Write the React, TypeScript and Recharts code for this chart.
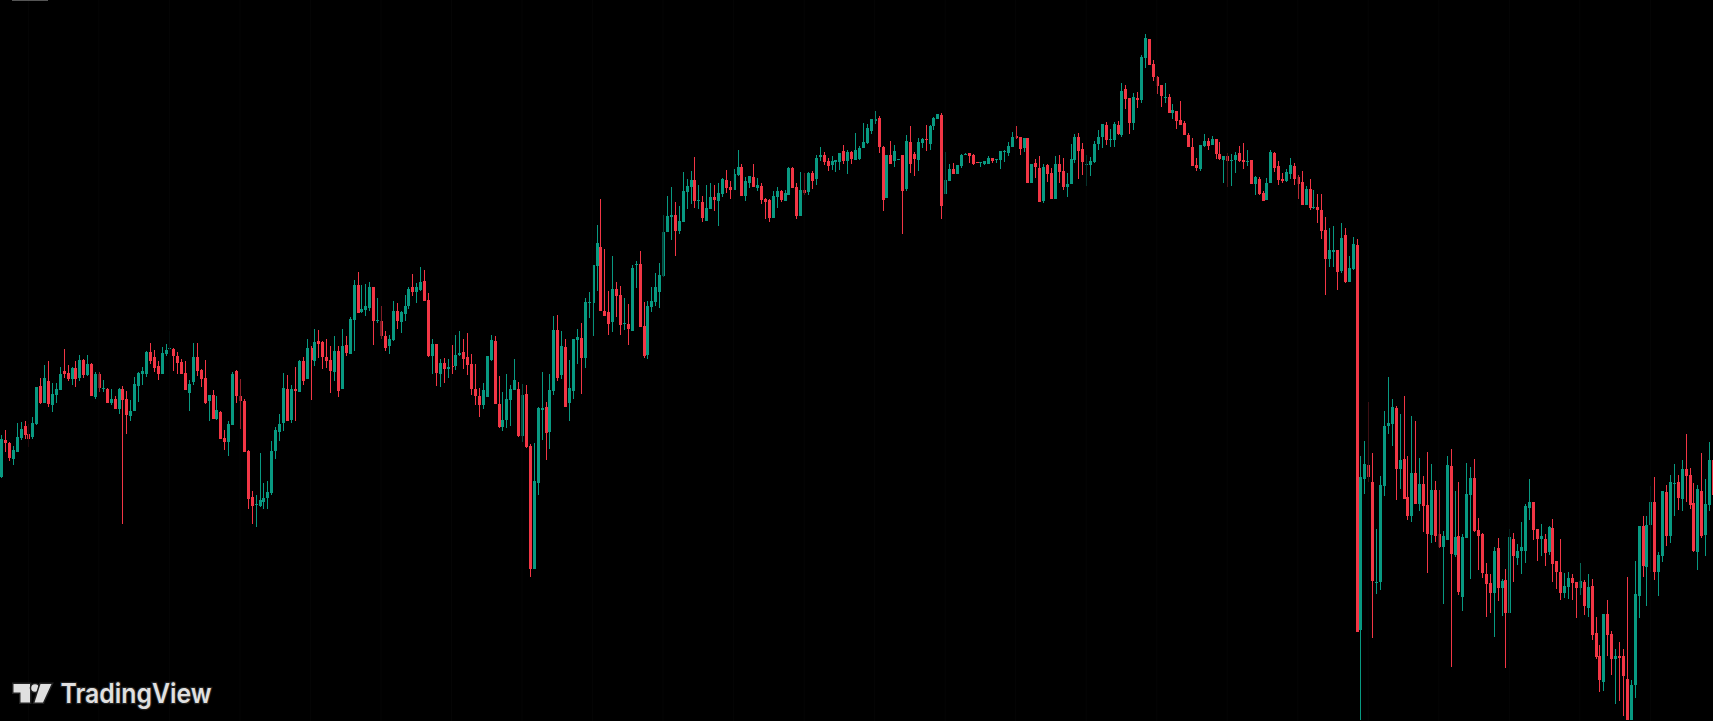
import React from "react";
import { ComposedChart, Bar, XAxis, YAxis, ReferenceLine } from "recharts";

type Q = [number, number, number, number]; // open, high, low, close

const leg1: Q[] = [
[244,286,243,282],[281,291,269,278],[278,279,260,263],[262,275,256,271],[269,298,269,284],[283,299,281,292],[295,300,282,286],[287,297,274,282],[284,304,282,298],[297,334,296,334],
[335,343,317,318],[318,356,318,343],[340,360,314,317],[316,338,309,327],[326,338,318,332],[331,354,331,347],[350,372,343,347],[348,356,340,342],[342,354,336,353],[353,360,334,342],
[343,366,340,361],[361,362,343,346],[346,366,345,357],[357,358,325,325],[324,349,322,347],[347,349,329,333],[332,341,329,333],[332,333,318,318],[318,332,316,322],[322,325,312,312],
[312,333,307,332],[332,335,197,321],[322,330,287,306],[305,321,300,310],[310,344,310,337],[335,349,319,348],[347,354,336,350],[347,370,344,369],[369,378,357,360],[364,371,349,353],
[355,360,341,347],[347,374,347,368],[367,377,365,371],[372,390,369,373],[372,373,350,365],[365,369,347,358],[359,362,347,347],[348,360,331,331],[328,341,310,337],[339,378,336,364],
[364,378,345,350],[351,352,334,342],[343,361,317,318],[320,326,300,326],[326,331,302,302],[302,325,301,311],[309,310,282,282],[283,291,271,279],[279,300,265,297],[296,349,296,347],
[350,351,318,325],[325,342,292,320],[320,322,269,269],[270,271,212,222],[224,230,197,215],[216,226,194,217],[215,268,214,221],[219,238,212,223],[223,240,212,229],[228,280,226,270],
[270,294,262,291],[289,307,280,297],[298,348,290,333],[332,346,300,300],[301,336,298,332],[332,354,300,330],[329,361,329,360],[360,364,336,340],[342,382,342,373],[373,375,321,361],
[360,392,355,379],[380,391,363,377],[379,380,352,364],[364,382,353,360],[361,375,328,350],[349,385,340,370],[370,375,324,330],[332,392,332,375],[376,385,365,368],[367,404,367,402],
];
const leg2: Q[] = [
[401,441,370,436],[436,449,408,408],[409,436,408,412],[411,437,405,415],[413,439,410,434],[434,434,376,400],[400,423,398,401],[400,415,382,385],[385,390,370,373],[375,386,367,382],
[381,420,380,410],[410,418,392,400],[399,410,388,409],[407,426,400,415],[415,434,412,432],[434,447,425,429],[429,438,418,434],[431,454,430,439],[440,451,420,420],[421,428,364,365],
[365,382,347,377],[377,377,335,348],[347,362,334,358],[358,363,338,352],[352,362,343,354],[355,376,347,354],[355,386,351,366],[366,390,365,368],[369,382,352,362],[364,388,346,356],
[357,367,326,332],[332,357,316,325],[325,333,304,316],[316,338,312,331],[324,365,324,365],[361,386,360,381],[380,385,317,317],[317,345,293,294],[294,329,290,301],[301,347,293,322],
[321,336,295,332],[331,362,331,341],[332,339,284,285],[285,337,279,326],[327,336,273,274],[275,277,144,152],[152,278,152,240],[238,314,226,313],[311,349,281,313],[314,319,261,288],
[289,347,272,331],[330,405,326,391],[391,406,340,343],[346,390,342,375],[374,382,314,314],[318,361,300,333],[330,382,322,382],[381,392,357,384],[383,398,327,363],[363,423,353,419],
[418,429,403,419],[418,456,385,456],[455,496,430,478],[474,522,410,410],[410,472,405,405],[409,430,386,397],[399,465,389,432],[432,439,404,425],[426,435,386,396],[397,423,391,398],
[397,417,376,392],[390,456,390,453],[456,460,433,457],[457,470,394,394],[395,419,363,365],[366,420,362,415],[414,434,409,420],[419,448,415,434],[429,458,413,446],[445,506,444,489],
];
const leg3: Q[] = [
[489,525,489,505],[504,534,481,506],[506,519,465,490],[490,515,487,500],[499,549,499,530],[529,542,512,535],[534,550,517,541],[541,564,513,520],[520,536,512,521],[519,525,499,503],
[500,536,500,513],[512,538,512,524],[524,536,510,521],[520,538,495,528],[527,543,524,542],[541,551,528,533],[534,540,522,531],[531,552,531,547],[546,571,545,554],[554,557,525,525],
[525,544,520,540],[538,545,533,545],[544,557,534,534],[533,543,530,536],[535,538,517,521],[522,523,502,519],[521,522,499,503],[503,530,503,525],[524,534,513,530],[530,531,519,521],
[520,531,520,528],[526,554,526,553],[553,554,533,533],[534,538,502,505],[505,549,505,531],[531,548,526,528],[529,549,526,548],[548,550,532,540],[542,566,536,563],[564,574,560,566],
[566,569,556,559],[560,563,550,555],[556,565,551,560],[559,561,549,561],[559,568,551,568],[570,576,557,560],[560,571,547,569],[569,570,557,562],[561,588,561,571],[562,575,561,573],
[573,598,573,579],[578,597,577,593],[590,602,587,602],[600,610,597,602],[603,605,568,574],[574,575,510,521],[523,566,523,566],[566,580,557,557],[560,576,554,570],[561,562,561,562],
[566,566,487,530],[532,586,530,580],[579,595,548,557],[567,569,545,562],[561,583,550,579],[578,583,573,582],[582,596,570,581],[577,596,571,595],[595,604,591,603],[602,607,602,607],
[606,608,502,515],[527,569,527,541],[540,557,540,552],[552,558,547,547],[547,556,547,556],[555,567,553,566],[566,568,566,567],[568,568,558,565],[566,567,556,557],[559,559,558,558],
];
const leg4: Q[] = [
[558,559,554,559],[557,560,556,560],[557,565,557,563],[563,563,558,560],[561,562,558,562],[561,570,552,570],[569,571,559,570],[568,579,565,575],[574,589,574,584],[585,595,582,583],
[584,584,566,572],[573,583,569,583],[583,583,538,538],[538,557,538,557],[558,562,543,554],[553,565,519,519],[520,557,518,554],[556,557,539,547],[548,553,522,522],[522,565,522,557],
[557,566,538,549],[550,563,531,534],[534,548,524,537],[537,577,537,562],[561,587,558,584],[584,588,542,570],[572,578,546,559],[556,566,535,557],[556,564,545,560],[559,580,558,577],
[577,591,571,584],[584,597,573,597],[596,599,576,581],[581,592,574,582],[581,599,574,597],[596,600,586,587],[586,638,584,630],[632,636,612,622],[623,623,587,598],[598,628,591,624],
[623,629,613,621],[621,666,618,664],[663,687,653,683],[682,682,656,656],[657,661,640,644],[644,645,627,635],[636,636,614,625],[623,638,618,624],[624,627,608,608],[608,617,602,611],
[610,610,592,600],[601,620,596,596],[598,600,586,586],[586,588,574,574],[574,583,555,555],[556,563,550,553],[552,576,550,576],[575,587,574,580],[580,583,571,575],[576,585,576,582],
[582,582,562,567],[567,579,561,562],[561,565,538,565],[565,568,534,560],[560,567,535,561],[561,569,548,566],[568,575,559,560],[561,578,552,559],[559,571,555,560],[561,561,537,537],
[537,545,526,544],[542,544,526,527],[528,530,520,520],[521,543,521,538],[538,571,538,569],[568,569,549,553],[555,560,536,541],[542,548,538,540],[540,552,539,549],[547,563,542,556],
];
const leg5: Q[] = [
[555,558,536,542],[544,546,522,537],[539,550,516,516],[516,535,516,532],[532,542,511,513],[513,531,512,514],[514,527,498,511],[511,527,482,490],[491,504,426,462],[462,493,454,471],
[469,495,454,471],[471,471,431,449],[450,498,448,483],[486,493,438,439],[439,465,439,453],[452,484,451,477],[476,482,89,89],[91,265,1,244],[242,280,227,257],[256,319,239,244],
[239,268,83,140],[138,192,127,139],[139,245,131,236],[235,310,225,295],[295,344,287,298],[297,322,275,314],[313,315,221,252],[252,307,232,261],[262,325,222,222],[224,265,201,205],
[205,305,199,248],[248,300,217,217],[217,263,210,237],[237,245,189,215],[216,269,148,187],[186,257,178,231],[231,240,179,185],[187,231,173,174],[174,190,117,185],[181,265,181,256],
[255,272,54,167],[166,230,164,184],[185,239,126,129],[124,187,110,184],[183,258,183,227],[226,254,142,243],[243,262,189,190],[191,203,151,185],[187,188,143,148],[147,158,104,137],
[138,147,108,128],[128,174,84,170],[173,183,120,133],[133,142,105,140],[141,152,53,108],[108,192,108,184],[182,188,139,165],[163,177,156,170],[170,199,147,174],[170,217,158,215],
[213,242,201,219],[219,219,181,191],[192,192,160,182],[182,197,165,185],[182,187,155,168],[169,195,166,194],[193,202,139,157],[160,160,132,149],[149,182,121,128],[128,148,123,135],
[134,149,122,143],[143,147,121,138],[139,139,103,133],[133,158,126,140],[139,141,106,115],[113,147,104,134],[135,142,81,86],[88,104,62,64],[65,76,29,41],[39,107,30,107],
[107,121,65,86],[87,90,46,62],[62,72,17,65],[65,79,20,63],[65,72,5,45],[42,144,1,1],[1,41,1,36],[36,160,23,127],[125,195,103,195],[195,205,144,155],
[154,205,115,196],[196,235,149,219],[219,244,141,149],[149,169,125,166],[165,230,159,230],[229,236,175,185],[185,246,178,239],[237,257,205,238],[239,246,211,223],[222,261,210,252],
[252,287,219,245],[246,253,212,216],[218,238,169,170],[169,236,151,232],[230,268,183,185],[186,242,165,217],[216,279,210,261],[261,268,220,226],
];
const gridCandles = [7,25,43,61,79,97,115,133,151,169,187,205,223,241,259,277,295,313,331,349,367,385,403,421];

const candles = [...leg1, ...leg2, ...leg3, ...leg4, ...leg5].map((q, i) => ({
  i, open: q[0], high: q[1], low: q[2], close: q[3],
}));

const UP = "#089981";
const DOWN = "#F23645";

function Candle(props: any) {
  const { x, y, width, height, payload } = props;
  const { open, high, low, close } = payload;
  const top = Math.min(y, y + height);
  const h = Math.abs(height);
  const perUnit = high > low ? h / (high - low) : 0;
  const bodyTop = Math.round(top + (high - Math.max(open, close)) * perUnit);
  const bodyBot = Math.round(top + (high - Math.min(open, close)) * perUnit);
  const cx = Math.round(x + width / 2);
  const color = close >= open ? UP : DOWN;
  return (
    <g shapeRendering="crispEdges">
      <rect x={cx} y={Math.round(top)} width={1} height={Math.max(1, Math.round(h))} fill={color} />
      <rect x={cx - 1} y={bodyTop} width={3} height={Math.max(1, bodyBot - bodyTop)} fill={color} />
    </g>
  );
}

function Logo() {
  const halo = "#222";
  return (
    <svg width={240} height={50} style={{ position: "absolute", left: 0, top: 671 }}>
      <g fill="#e0e0e0" stroke={halo} strokeWidth={3} style={{ paintOrder: "stroke" } as any}>
        <path d="M13.5 13 H30 V31.5 H20.5 V21.5 H13.5 Z" />
        <circle cx={35} cy={17} r={3.8} />
        <path d="M40.5 13 H51.5 L43 31.5 H34.5 Z" />
      </g>
      <text
        x={60.5}
        y={32}
        fontFamily="Inter, Roboto, sans-serif"
        fontWeight={600}
        fontSize={27}
        textLength={151}
        lengthAdjust="spacingAndGlyphs"
        fill="#e0e0e0"
        stroke={halo}
        strokeWidth={2.5}
        style={{ paintOrder: "stroke" } as any}
      >
        TradingView
      </text>
    </svg>
  );
}

export default function App() {
  return (
    <div style={{ position: "fixed", left: 0, top: 0, width: 1713, height: 721, background: "#000", overflow: "hidden" }}>
      <div style={{ position: "absolute", left: -1, top: 0 }}>
        <ComposedChart
          width={1716}
          height={721}
          data={candles}
          margin={{ top: 0, right: 0, bottom: 0, left: 0 }}
          barCategoryGap={0}
        >
          <XAxis dataKey="i" type="category" hide />
          <YAxis type="number" domain={[0, 721]} hide />
          {gridCandles.map((g) => (
            <ReferenceLine key={g} x={g} stroke="#050505" strokeWidth={1} />
          ))}
          <Bar dataKey={(d: any) => [d.low, d.high]} shape={<Candle />} isAnimationActive={false} />
        </ComposedChart>
      </div>
      <div style={{ position: "absolute", left: 12, top: 0, width: 36, height: 1, background: "#555" }} />
      <Logo />
    </div>
  );
}
